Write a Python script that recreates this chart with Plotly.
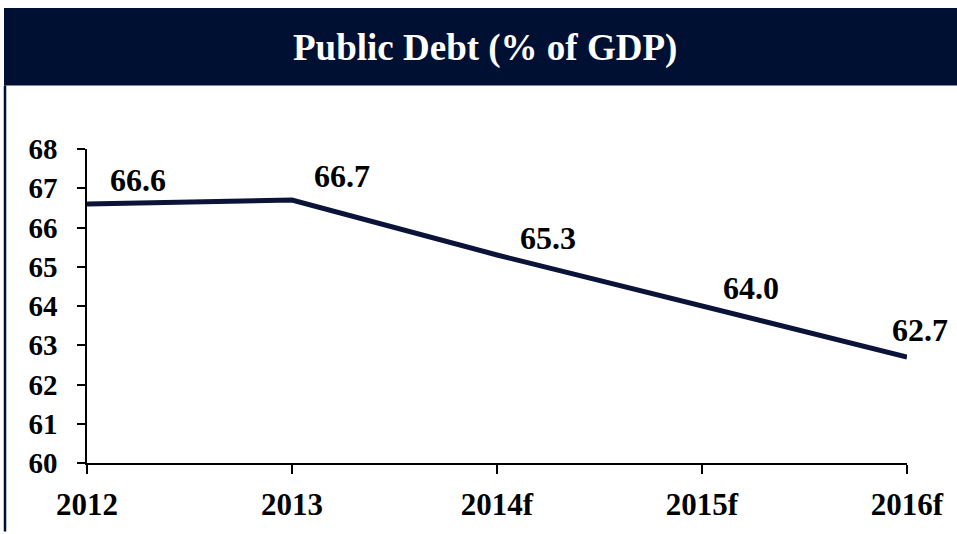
import plotly.graph_objects as go

# ---- data ----
years = ["2012", "2013", "2014f", "2015f", "2016f"]
debt_pct = [66.6, 66.7, 65.3, 64.0, 62.7]
y_ticks = [60, 61, 62, 63, 64, 65, 66, 67, 68]
title_text = "Public Debt (% of GDP)"

# label placement (styling, pixels relative to point)
label_dx = [51, 50, 51, 49, 13]
label_dy = [24, 24, 17, 18, 27]

NAVY = "#001033"
LINE = "#0b1438"
FONT = "Liberation Serif, Times New Roman, serif"

W, H = 957, 534
L, R, T, B = 87, 50, 149, 69
pw, ph = W - L - R, H - T - B

def px_x(x):
    return (x - L) / pw

def px_y(y):
    return (H - B - y) / ph

fig = go.Figure()
fig.add_trace(go.Scatter(
    x=years, y=debt_pct, mode="lines",
    line=dict(color=LINE, width=5),
    hoverinfo="skip", showlegend=False,
))

for i, (v, dx, dy) in enumerate(zip(debt_pct, label_dx, label_dy)):
    fig.add_annotation(
        x=i, y=v, xref="x", yref="y", text=f"{v:.1f}", showarrow=False,
        xanchor="center", yanchor="middle",
        xshift=dx, yshift=dy,
        font=dict(family=FONT, size=32, color="black", weight="bold"),
    )

# title bar
fig.add_shape(type="rect", xref="paper", yref="paper",
              x0=px_x(4), x1=px_x(957), y0=px_y(85), y1=px_y(7),
              fillcolor=NAVY, line=dict(width=0), layer="below")
# left frame border
fig.add_shape(type="line", xref="paper", yref="paper",
              x0=px_x(5), x1=px_x(5), y0=px_y(534), y1=px_y(85),
              line=dict(color=NAVY, width=2.5))

fig.add_annotation(
    x=px_x(485), y=px_y(47), xref="paper", yref="paper",
    xanchor="center", yanchor="middle",
    text=title_text, showarrow=False,
    font=dict(family=FONT, size=37, color="white", weight="bold"),
)

fig.update_layout(
    width=W, height=H,
    margin=dict(l=L, r=R, t=T, b=B, pad=0),
    paper_bgcolor="white", plot_bgcolor="white",
    xaxis=dict(
        type="category", range=[0, 4], showgrid=False, zeroline=False,
        showline=True, linecolor="black", linewidth=1.5,
        ticks="outside", ticklen=9, tickwidth=1.5, tickcolor="black",
        tickfont=dict(family=FONT, size=31, color="black", weight="bold"),
        ticklabelstandoff=4,
    ),
    yaxis=dict(
        range=[60, 68], tickvals=y_ticks, showgrid=False, zeroline=False,
        showline=True, linecolor="black", linewidth=1.5,
        ticks="outside", ticklen=8, tickwidth=1.5, tickcolor="black",
        tickfont=dict(family=FONT, size=29, color="black", weight="bold"),
        ticklabelstandoff=14,
    ),
)

fig.write_html("out.html")
